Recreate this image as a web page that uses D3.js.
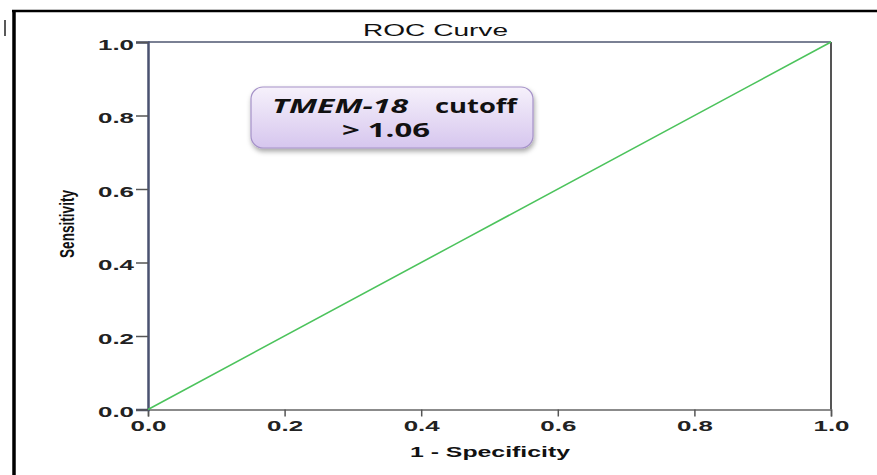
<!DOCTYPE html>
<html>
<head>
<meta charset="utf-8">
<script src="https://cdn.jsdelivr.net/npm/d3@7"></script>
<style>
  body { margin: 0; background: #fff; }
  svg { display: block; font-family: "Liberation Sans", Arial, sans-serif; }
</style>
</head>
<body>
<div id="vis"></div>
<script>
// ROC points (1 - specificity, sensitivity)
const specificity1 = [0, 0.45, 0.88, 1]
const sensitivity = [0, 0.45, 0.88, 1]
const xTicks = [0, 0.2, 0.4, 0.6, 0.8, 1.0]
const yTicks = [0, 0.2, 0.4, 0.6, 0.8, 1.0]

const width = 877, height = 475
const plot = { left: 148, right: 831, top: 42, bottom: 409.5 }

const svg = d3.select('#vis').append('svg')
  .attr('width', width)
  .attr('height', height)

const defs = svg.append('defs')
const grad = defs.append('linearGradient')
  .attr('id', 'boxGrad').attr('x1', 0).attr('y1', 0).attr('x2', 0).attr('y2', 1)
grad.append('stop').attr('offset', '0%').attr('stop-color', '#f6f1fb')
grad.append('stop').attr('offset', '100%').attr('stop-color', '#d6c6ee')
const shadow = defs.append('filter').attr('id', 'shadow')
  .attr('x', '-10%').attr('y', '-20%').attr('width', '130%').attr('height', '160%')
shadow.append('feDropShadow')
  .attr('dx', 1).attr('dy', 3).attr('stdDeviation', 2.5)
  .attr('flood-color', '#000').attr('flood-opacity', 0.35)

// outer frame
svg.append('line').attr('x1', 14).attr('x2', 14).attr('y1', 11).attr('y2', height)
  .attr('stroke', '#000').attr('stroke-width', 3.5)
svg.append('line').attr('x1', 12).attr('x2', width).attr('y1', 11).attr('y2', 11)
  .attr('stroke', '#000').attr('stroke-width', 2.5)
svg.append('line').attr('x1', 5).attr('x2', 5).attr('y1', 20).attr('y2', 36)
  .attr('stroke', '#222').attr('stroke-width', 1.5)

const x = d3.scaleLinear().domain([0, 1]).range([plot.left, plot.right])
const y = d3.scaleLinear().domain([0, 1]).range([plot.bottom, plot.top])

// plot border: top and right
svg.append('line').attr('x1', plot.left).attr('x2', plot.right)
  .attr('y1', plot.top).attr('y2', plot.top)
  .attr('stroke', '#4e5670').attr('stroke-width', 1.5)
svg.append('line').attr('x1', plot.right).attr('x2', plot.right)
  .attr('y1', plot.top).attr('y2', plot.bottom)
  .attr('stroke', '#555').attr('stroke-width', 2)

const fmt = d3.format('.1f')

const xAxis = svg.append('g')
  .attr('transform', `translate(0,${plot.bottom})`)
  .call(d3.axisBottom(x).tickValues(xTicks).tickFormat(fmt).tickSize(7).tickPadding(5))
xAxis.select('.domain').attr('stroke', '#666').attr('stroke-width', 1.5)
xAxis.selectAll('.tick line').attr('stroke', '#555').attr('stroke-width', 1.5)

const yAxis = svg.append('g')
  .attr('transform', `translate(${plot.left},0)`)
  .call(d3.axisLeft(y).tickValues(yTicks).tickFormat(fmt).tickSize(12).tickPadding(2))
yAxis.select('.domain').attr('stroke', '#4a5270').attr('stroke-width', 2.5)
yAxis.selectAll('.tick line').attr('stroke', '#555').attr('stroke-width', 1.5)

// the source picture is stretched sideways, so labels get a wider textLength
svg.selectAll('.tick text')
  .attr('fill', '#222')
  .attr('textLength', 36)
  .attr('lengthAdjust', 'spacingAndGlyphs')
  .style('font-family', '"Liberation Sans", Arial, sans-serif')
  .style('font-size', '14px')
  .style('font-weight', 'bold')
yAxis.selectAll('.tick text').attr('dy', '0.5em')

// ROC line
const pts = specificity1.map((d, i) => [d, sensitivity[i]])
svg.append('path')
  .datum(pts)
  .attr('fill', 'none')
  .attr('stroke', '#4cc35c')
  .attr('stroke-width', 1.6)
  .attr('d', d3.line().x((d) => x(d[0])).y((d) => y(d[1])))

// titles
svg.append('text').attr('x', 363).attr('y', 36)
  .attr('textLength', 145).attr('lengthAdjust', 'spacingAndGlyphs')
  .style('font-size', '16px').attr('fill', '#111').text('ROC Curve')
svg.append('text').attr('x', 410).attr('y', 457)
  .attr('textLength', 160).attr('lengthAdjust', 'spacingAndGlyphs')
  .style('font-size', '15px').style('font-weight', 'bold').attr('fill', '#111')
  .text('1 - Specificity')
svg.append('text')
  .attr('transform', 'translate(74,224) rotate(-90) scale(1,1.35)')
  .attr('text-anchor', 'middle')
  .attr('textLength', 68).attr('lengthAdjust', 'spacingAndGlyphs')
  .style('font-size', '15px').style('font-weight', 'bold').attr('fill', '#111')
  .text('Sensitivity')

// annotation box
svg.append('rect')
  .attr('x', 251).attr('y', 87).attr('width', 282).attr('height', 61)
  .attr('rx', 12).attr('ry', 12)
  .attr('fill', 'url(#boxGrad)')
  .attr('stroke', '#a592c8').attr('stroke-width', 1.2)
  .attr('filter', 'url(#shadow)')

const boxText = [
  { t: 'TMEM-18', x: 272, y: 113, w: 136, italic: true },
  { t: 'cutoff', x: 435, y: 113, w: 82, italic: false },
  { t: '> 1.06', x: 342, y: 137, w: 88, italic: false }
]
svg.selectAll('text.note').data(boxText).enter().append('text')
  .attr('class', 'note')
  .attr('x', (d) => d.x).attr('y', (d) => d.y)
  .attr('textLength', (d) => d.w).attr('lengthAdjust', 'spacingAndGlyphs')
  .style('font-family', '"Open Sans", "Liberation Sans", sans-serif')
  .style('font-size', '19px').style('font-weight', 'bold')
  .style('font-style', (d) => (d.italic ? 'italic' : 'normal'))
  .attr('fill', '#111')
  .text((d) => d.t)
</script>
</body>
</html>
